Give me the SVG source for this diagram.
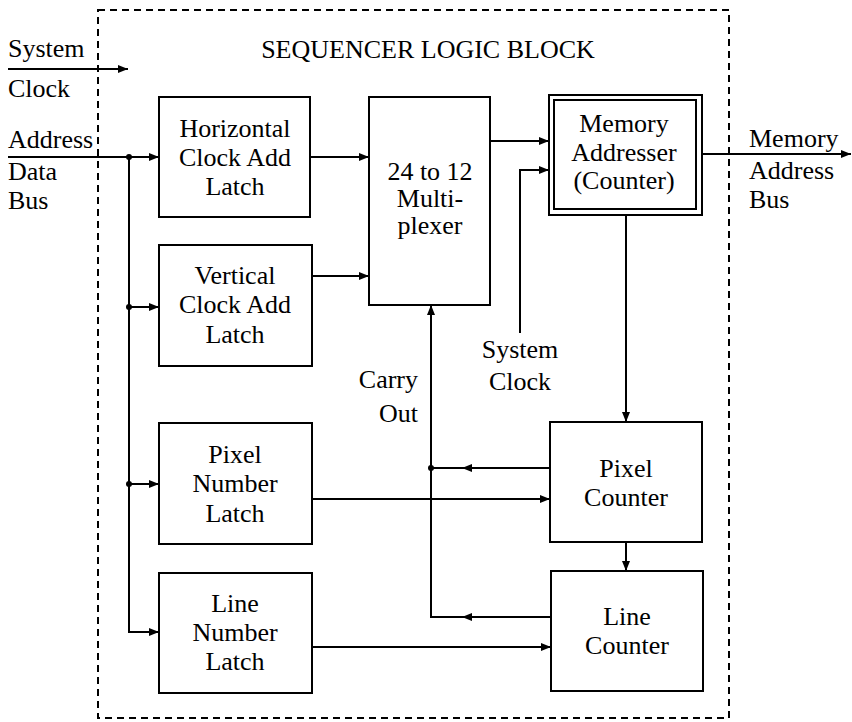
<svg xmlns="http://www.w3.org/2000/svg" width="852" height="722" viewBox="0 0 852 722">
<defs>
<marker id="arr" viewBox="0 0 10 8" refX="10" refY="4" markerWidth="10" markerHeight="8" markerUnits="userSpaceOnUse" orient="auto">
<path d="M0,0 L10,4 L0,8 z" fill="#000"/>
</marker>
</defs>
<style>
text{font-family:"Liberation Serif","Times New Roman",serif;font-size:26px;fill:#000}
.c{text-anchor:middle}
.e{text-anchor:end}
.box{fill:none;stroke:#000;stroke-width:2}
.ln{fill:none;stroke:#000;stroke-width:2}
.a{marker-end:url(#arr)}
.border{fill:none;stroke:#000;stroke-width:2;stroke-dasharray:7,5}
</style>
<rect width="852" height="722" fill="#fff"/>
<rect class="border" x="98" y="10" width="631" height="708"/>
<text class="c" x="428" y="58">SEQUENCER LOGIC BLOCK</text>

<g id="ext-labels">
<text x="8" y="57">System</text>
<text x="8" y="97">Clock</text>
<text x="8" y="148">Address</text>
<text x="8" y="180">Data</text>
<text x="8" y="209">Bus</text>
<text x="749" y="147">Memory</text>
<text x="749" y="179">Address</text>
<text x="749" y="208">Bus</text>
<text class="c" x="520" y="358">System</text>
<text class="c" x="520" y="390">Clock</text>
<text class="e" x="418" y="388">Carry</text>
<text class="e" x="418" y="422">Out</text>
</g>

<g id="hlatch">
<rect class="box" x="159" y="97" width="151" height="120"/>
<text class="c" x="235" y="137">Horizontal</text>
<text class="c" x="235" y="166">Clock Add</text>
<text class="c" x="235" y="195">Latch</text>
</g>
<g id="vlatch">
<rect class="box" x="159" y="245" width="153" height="121"/>
<text class="c" x="235" y="284">Vertical</text>
<text class="c" x="235" y="313">Clock Add</text>
<text class="c" x="235" y="343">Latch</text>
</g>
<g id="pnlatch">
<rect class="box" x="159" y="423" width="153" height="121"/>
<text class="c" x="235" y="463">Pixel</text>
<text class="c" x="235" y="492">Number</text>
<text class="c" x="235" y="522">Latch</text>
</g>
<g id="lnlatch">
<rect class="box" x="159" y="573" width="153" height="120"/>
<text class="c" x="235" y="612">Line</text>
<text class="c" x="235" y="641">Number</text>
<text class="c" x="235" y="670">Latch</text>
</g>
<g id="mux">
<rect class="box" x="369" y="97" width="121" height="208"/>
<text class="c" x="430" y="180">24 to 12</text>
<text class="c" x="430" y="207">Multi-</text>
<text class="c" x="430" y="234">plexer</text>
</g>
<g id="memaddr">
<rect class="box" x="549" y="95" width="153" height="120"/>
<rect class="box" x="554" y="100" width="142" height="109"/>
<text class="c" x="624" y="132">Memory</text>
<text class="c" x="624" y="161">Addresser</text>
<text class="c" x="624" y="189">(Counter)</text>
</g>
<g id="pcounter">
<rect class="box" x="550" y="422" width="152" height="120"/>
<text class="c" x="626" y="477">Pixel</text>
<text class="c" x="626" y="506">Counter</text>
</g>
<g id="lcounter">
<rect class="box" x="551" y="571" width="152" height="120"/>
<text class="c" x="627" y="625">Line</text>
<text class="c" x="627" y="654">Counter</text>
</g>

<g id="connectors">
<line class="ln a" x1="8" y1="69" x2="128" y2="69"/>
<line class="ln a" x1="8" y1="157" x2="159" y2="157"/>
<polyline class="ln a" points="129,157 129,632 159,632"/>
<line class="ln a" x1="129" y1="307" x2="159" y2="307"/>
<line class="ln a" x1="129" y1="484" x2="159" y2="484"/>
<circle cx="129" cy="157" r="3"/>
<circle cx="129" cy="307" r="3"/>
<circle cx="129" cy="484" r="3"/>
<line class="ln a" x1="310" y1="157" x2="369" y2="157"/>
<line class="ln a" x1="312" y1="276" x2="369" y2="276"/>
<line class="ln a" x1="490" y1="141" x2="549" y2="141"/>
<polyline class="ln a" points="520,333 520,170 549,170"/>
<line class="ln a" x1="702" y1="154" x2="851" y2="154"/>
<line class="ln a" x1="626" y1="215" x2="626" y2="422"/>
<line class="ln a" x1="626" y1="542" x2="626" y2="571"/>
<line class="ln a" x1="312" y1="499" x2="550" y2="499"/>
<line class="ln a" x1="312" y1="647" x2="551" y2="647"/>
<line class="ln a" x1="550" y1="468" x2="462" y2="468"/>
<line class="ln" x1="464" y1="468" x2="431" y2="468"/>
<circle cx="431" cy="468" r="3"/>
<line class="ln a" x1="551" y1="617" x2="462" y2="617"/>
<polyline class="ln a" points="464,617 431,617 431,305"/>
</g>
</svg>
